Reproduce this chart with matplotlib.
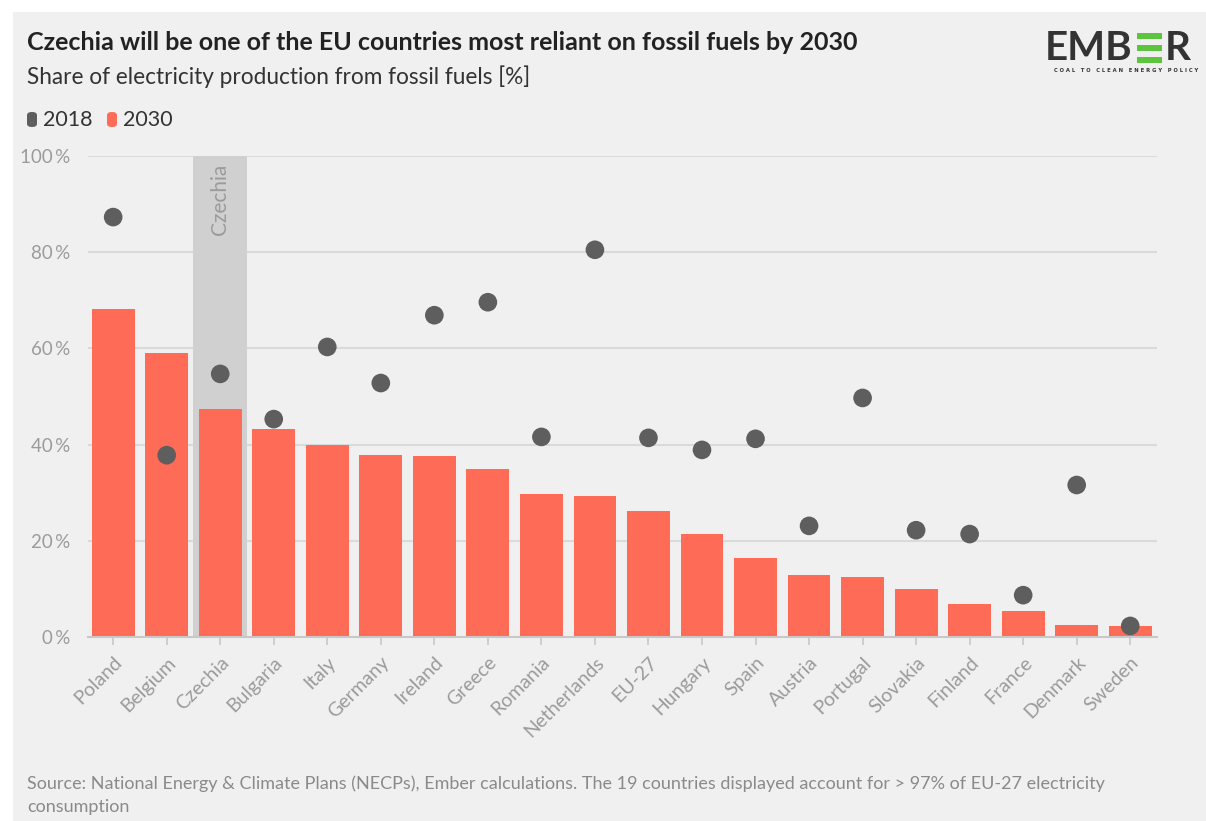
import matplotlib
matplotlib.use("Agg")
import matplotlib.pyplot as plt
from matplotlib.patches import Rectangle, FancyBboxPatch

# --- DATA ---
countries = ["Poland", "Belgium", "Czechia", "Bulgaria", "Italy", "Germany", "Ireland",
             "Greece", "Romania", "Netherlands", "EU-27", "Hungary", "Spain", "Austria",
             "Portugal", "Slovakia", "Finland", "France", "Denmark", "Sweden"]
share_2030 = [68.2, 59.0, 47.4, 43.2, 39.9, 37.8, 37.6, 34.9, 29.7, 29.3, 26.2,
              21.4, 16.4, 12.9, 12.5, 10.0, 6.9, 5.4, 2.5, 2.3]
share_2018 = [87.3, 37.8, 54.7, 45.3, 60.3, 52.8, 66.9, 69.6, 41.6, 80.5, 41.4,
              38.9, 41.2, 23.1, 49.7, 22.2, 21.4, 8.7, 31.6, 2.3]
y_ticks = [0, 20, 40, 60, 80, 100]
highlight = "Czechia"

# --- STYLE ---
FONT = "Lato"
BG = "#f0f0f0"
BAR = "#fe6b56"
DOT = "#5e5e5e"
GRID = "#dadada"
LABEL = "#9b9b9b"

W, H = 1206, 821
fig = plt.figure(figsize=(W / 100, H / 100), dpi=100)
fig.patch.set_facecolor("white")
fig.patches.append(Rectangle((13 / W, 0), 1 - 13 / W, 1 - 12 / H,
                             transform=fig.transFigure, facecolor=BG, edgecolor="none", zorder=-10))

ax = fig.add_axes([88 / W, 1 - 637 / H, (1157 - 88) / W, (637 - 156) / H])
ax.patch.set_alpha(0)

x = list(range(len(countries)))
ax.set_xlim(-0.47, 19.5)
ax.set_ylim(0, 100)

# highlight band
hi = countries.index(highlight)
ax.axvspan(hi - 0.5, hi + 0.5, color="#d0d0d0", zorder=0.5, lw=0)
ax.text(hi, 98.3, highlight, rotation=90, ha="center", va="top", color=LABEL,
        fontsize=15, family=FONT, zorder=1)

for t in y_ticks[1:]:
    ax.axhline(t, color=GRID, lw=1.5, zorder=0.2)

ax.bar(x, share_2030, width=0.8, color=BAR, zorder=2)
ax.scatter(x, share_2018, s=180, color=DOT, zorder=3, edgecolors="none")

ax.set_yticks(y_ticks)
ax.set_yticklabels([f"{t}\u2009%" for t in y_ticks], family=[FONT, "DejaVu Sans"],
                   fontsize=13.5, color=LABEL)
ax.set_xticks(x)
ax.set_xticklabels(countries, rotation=45, ha="right", rotation_mode="anchor",
                   family=FONT, fontsize=14, color=LABEL)
ax.tick_params(axis="y", length=0, pad=13)
ax.tick_params(axis="x", length=6, color="#c8c8c8", width=1.2, pad=6)
for s in ["top", "right", "left"]:
    ax.spines[s].set_visible(False)
ax.spines["bottom"].set_color("#c8c8c8")
ax.spines["bottom"].set_linewidth(1.5)
ax.spines["bottom"].set_zorder(4)

# --- TITLES ---
fig.text(27 / W, 1 - 42 / H, "Czechia will be one of the EU countries most reliant on fossil fuels by 2030",
         family=FONT, fontsize=18, fontweight="bold", color="#222222", va="center")
fig.text(27 / W, 1 - 77 / H, "Share of electricity production from fossil fuels [%]",
         family=FONT, fontsize=16.3, color="#333333", va="center")

# legend
for lx, col, lab in [(27, DOT, "2018"), (107, BAR, "2030")]:
    fig.patches.append(FancyBboxPatch((lx / W, 1 - 127 / H), 10 / W, 15 / H,
                                      boxstyle="round,pad=0,rounding_size=0.004",
                                      transform=fig.transFigure, facecolor=col, edgecolor="none"))
    fig.text((lx + 16) / W, 1 - 120 / H, lab, family=FONT, fontsize=15.5, color="#333333", va="center")

# logo
fig.text(1133 / W, 1 - 48 / H, "EMB", family=FONT, fontsize=29, fontweight="bold",
         color="#333333", ha="right", va="center")
fig.text(1165 / W, 1 - 48 / H, "R", family=FONT, fontsize=29, fontweight="bold",
         color="#333333", ha="left", va="center")
for by in [33, 45, 57]:
    fig.patches.append(Rectangle((1137 / W, 1 - (by + 6) / H), 25 / W, 6 / H,
                                 transform=fig.transFigure, facecolor="#5cc43e", edgecolor="none"))
fig.text(1126 / W, 1 - 70 / H, "C O A L   T O   C L E A N   E N E R G Y   P O L I C Y",
         family="DejaVu Sans", fontsize=3.8, fontweight="bold", color="#333333", ha="center", va="center")

# source
fig.text(27 / W, 1 - 784 / H,
         "Source: National Energy & Climate Plans (NECPs), Ember calculations. The 19 countries displayed account for > 97% of EU-27 electricity",
         family=FONT, fontsize=13, color="#8a8a8a", va="center")
fig.text(27 / W, 1 - 807 / H, "consumption", family=FONT, fontsize=13, color="#8a8a8a", va="center")

fig.savefig("out.png", dpi=100, facecolor=fig.get_facecolor())
